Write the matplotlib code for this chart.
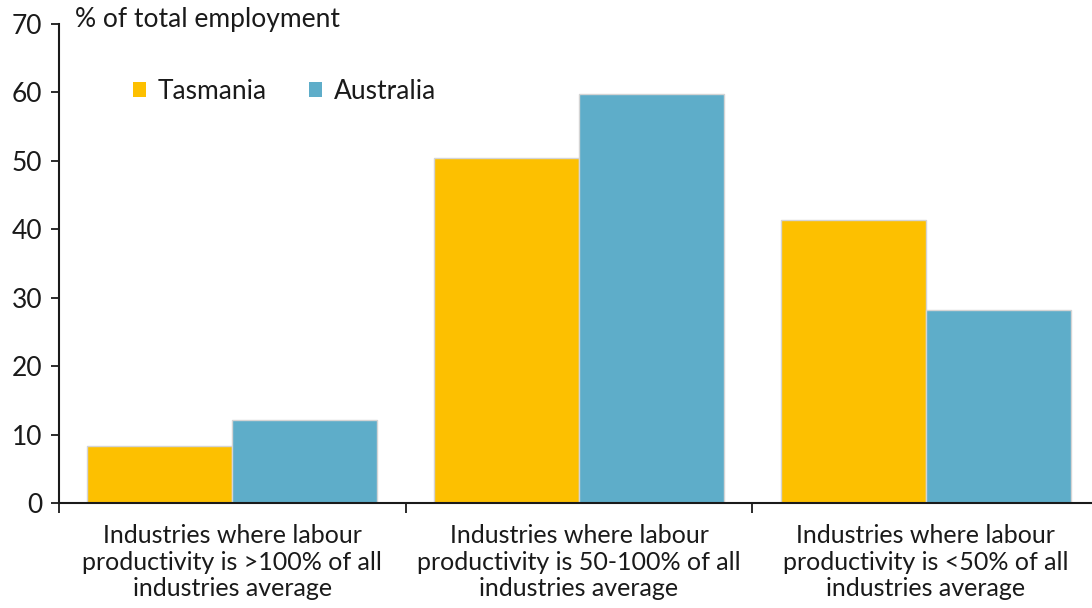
import matplotlib
matplotlib.use("Agg")
import matplotlib.pyplot as plt
import numpy as np

categories = [
    "Industries where labour\nproductivity is >100% of all\nindustries average",
    "Industries where labour\nproductivity is 50-100% of all\nindustries average",
    "Industries where labour\nproductivity is <50% of all\nindustries average",
]
series_names = ["Tasmania", "Australia"]
tasmania = [8.3, 50.4, 41.4]
australia = [12.1, 59.7, 28.2]
y_ticks = [0, 10, 20, 30, 40, 50, 60, 70]
y_label = "% of total employment"

plt.rcParams['font.family'] = ['Lato', 'DejaVu Sans']
col_tas = "#FDC000"
col_aus = "#5EADC9"
edge = "#D4D4D4"
dark = "#1A1A1A"
fs = 19

fig = plt.figure(figsize=(10.92, 6.08), dpi=100)
W, H = 1092, 608
left_px, right_px, top_px, bot_px = 59, 1099, 24, 503
ax = fig.add_axes([left_px / W, 1 - bot_px / H, (right_px - left_px) / W, (bot_px - top_px) / H])

x = np.arange(len(categories))
bw = 0.418
ax.bar(x - bw / 2, tasmania, width=bw, color=col_tas, edgecolor=edge, linewidth=1.0, label=series_names[0])
ax.bar(x + bw / 2, australia, width=bw, color=col_aus, edgecolor=edge, linewidth=1.0, label=series_names[1])

ax.set_xlim(-0.5, len(categories) - 0.5)
ax.set_ylim(0, 70)
ax.set_yticks(y_ticks)
ax.set_xticks(x)
ax.set_xticklabels(categories, fontsize=18, color=dark, linespacing=1.2)
ax.set_xticks(np.arange(len(categories) + 1) - 0.5, minor=True)
ax.tick_params(axis='x', which='major', length=0, pad=15)
ax.tick_params(axis='x', which='minor', length=7, width=1.3, color=dark, direction='out')
ax.tick_params(axis='y', length=6, width=1.3, color=dark, labelsize=fs, labelcolor=dark, pad=6)

for s in ['top', 'right']:
    ax.spines[s].set_visible(False)
for s in ['left', 'bottom']:
    ax.spines[s].set_color(dark)
    ax.spines[s].set_linewidth(1.5)

ax.text(75 / W, 1 - 20 / H, y_label, transform=fig.transFigure, fontsize=fs, color=dark,
        ha='left', va='center')

leg = ax.legend(loc='upper left', bbox_to_anchor=((122 - left_px) / (right_px - left_px), 1 - (68 - top_px) / (bot_px - top_px)),
                ncol=2, frameon=False, fontsize=fs, handlelength=0.5, handleheight=0.5,
                handletextpad=0.45, columnspacing=1.6, borderaxespad=0)
for t in leg.get_texts():
    t.set_color(dark)
for h in leg.legend_handles:
    h.set_edgecolor('none')

fig.savefig("out.png", dpi=100)
